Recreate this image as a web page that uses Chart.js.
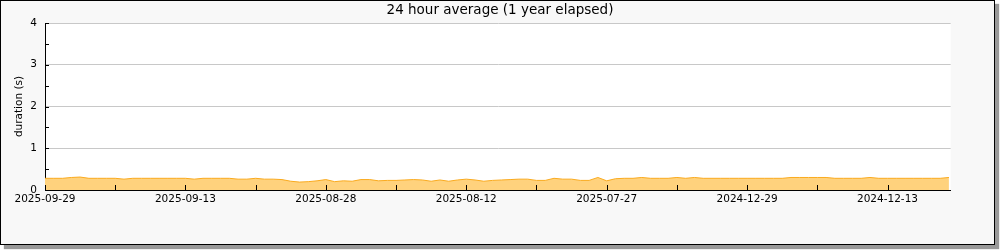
<!DOCTYPE html>
<html>
<head>
<meta charset="utf-8">
<script src="https://cdn.jsdelivr.net/npm/chart.js@4.4.1/dist/chart.umd.min.js"></script>
<style>
  html, body { margin: 0; padding: 0; background: #fff; }
  #frame {
    position: absolute; left: 0; top: 0;
    width: 993px; height: 243px;
    border: 1px solid #000;
    background: #f8f8f8;
    box-shadow: 4px 4px 1px #999;
  }
  #chartCanvas { position: absolute; left: 0; top: 0; }
</style>
</head>
<body>
<div id="frame"></div>
<canvas id="chartCanvas" width="1000" height="250"></canvas>
<script>
// chart data
const titleText = '24 hour average (1 year elapsed)';
const yTitle = 'duration (s)';

// tick labels shown every 16 days along the x axis
const dateLabels = ['2025-09-29', '2025-09-13', '2025-08-28', '2025-08-12', '2025-07-27', '2024-12-29', '2024-12-13'];

// one value per day (seconds)
const durations = [
  0.28, 0.28, 0.28, 0.30, 0.31, 0.28, 0.28, 0.28, 0.28, 0.26,
  0.28, 0.28, 0.28, 0.28, 0.28, 0.28, 0.28, 0.26, 0.28, 0.28,
  0.28, 0.28, 0.26, 0.26, 0.28, 0.26, 0.26, 0.25, 0.21, 0.19,
  0.20, 0.22, 0.25, 0.20, 0.22, 0.21, 0.25, 0.25, 0.22, 0.23,
  0.23, 0.24, 0.25, 0.24, 0.21, 0.24, 0.21, 0.24, 0.26, 0.24,
  0.21, 0.23, 0.24, 0.25, 0.26, 0.26, 0.23, 0.23, 0.28, 0.26,
  0.26, 0.23, 0.23, 0.30, 0.22, 0.27, 0.28, 0.28, 0.30, 0.28,
  0.28, 0.28, 0.30, 0.28, 0.30, 0.28, 0.28, 0.28, 0.28, 0.28,
  0.28, 0.28, 0.28, 0.28, 0.28, 0.30, 0.30, 0.30, 0.30, 0.30,
  0.28, 0.28, 0.28, 0.28, 0.30, 0.28, 0.28, 0.28, 0.28, 0.28,
  0.28, 0.28, 0.28, 0.30
];

const xMax = 103.2;
const xStep = 8;      // minor tick every 8 days, label every 16
const yMax = 4;

const FONT = 'DejaVu Sans';

// white plot background, inward tick marks and the rotated y title
const plotDecor = {
  id: 'plotDecor',
  beforeDraw(chart) {
    const { ctx, chartArea } = chart;
    ctx.save();
    ctx.fillStyle = '#ffffff';
    ctx.fillRect(chartArea.left, chartArea.top, chartArea.right - chartArea.left, chartArea.bottom - chartArea.top);
    ctx.restore();
  },
  afterDatasetsDraw(chart) {
    const { ctx, chartArea, scales } = chart;
    ctx.save();
    ctx.strokeStyle = '#000';
    ctx.lineWidth = 1;
    ctx.beginPath();
    scales.x.ticks.forEach((t) => {
      const px = Math.round(scales.x.getPixelForValue(t.value)) + 0.5;
      ctx.moveTo(px, chartArea.bottom);
      ctx.lineTo(px, chartArea.bottom - 5);
    });
    scales.y.ticks.forEach((t) => {
      const py = Math.round(scales.y.getPixelForValue(t.value)) + 0.5;
      ctx.moveTo(chartArea.left, py);
      ctx.lineTo(chartArea.left + 4, py);
    });
    ctx.stroke();
    // y axis title, centred on the plot height
    ctx.translate(19, (chartArea.top + chartArea.bottom) / 2);
    ctx.rotate(-Math.PI / 2);
    ctx.fillStyle = '#000';
    ctx.font = '10.5px "' + FONT + '"';
    ctx.textAlign = 'center';
    ctx.textBaseline = 'middle';
    ctx.fillText(yTitle, 0, 0);
    ctx.restore();
  }
};

const points = durations.map((v, i) => ({ x: i, y: v }));

const chartCanvas = document.getElementById('chartCanvas');
const chartInstance = new Chart(chartCanvas.getContext('2d'), {
  type: 'line',
  data: {
    datasets: [
      {
        label: 'duration',
        data: points,
        borderColor: 'rgb(250,170,30)',
        backgroundColor: 'rgb(255,210,125)',
        borderWidth: 1,
        pointRadius: 0,
        tension: 0,
        fill: 'origin',
      },
    ],
  },
  options: {
    responsive: false,
    animation: false,
    layout: { padding: 0 },
    plugins: {
      legend: { display: false },
      tooltip: { enabled: false },
      title: {
        display: true,
        text: titleText,
        color: '#000',
        font: { family: FONT, size: 13.5, weight: 'normal', lineHeight: 1.2 },
        padding: { top: 2, bottom: 4.8 },
      },
    },
    scales: {
      x: {
        type: 'linear',
        min: 0,
        max: xMax,
        afterBuildTicks: (scale) => {
          const ticks = [];
          for (let v = 0; v <= xMax; v += xStep) ticks.push({ value: v });
          scale.ticks = ticks;
        },
        afterFit: (scale) => { scale.height = 60; },
        grid: { display: false, drawTicks: false },
        border: { display: true, color: '#000', width: 1 },
        ticks: {
          autoSkip: false,
          maxRotation: 0,
          padding: 3,
          color: '#000',
          font: { family: FONT, size: 10.5 },
          callback: (value) => (value % 16 === 0 ? dateLabels[value / 16] : ''),
        },
      },
      y: {
        min: 0,
        max: yMax,
        afterFit: (scale) => { scale.width = 45; },
        grid: {
          drawTicks: false,
          color: (c) => (c.tick && Number.isInteger(c.tick.value) && c.tick.value > 0 ? '#c8c8c8' : 'rgba(0,0,0,0)'),
        },
        border: { display: true, color: '#000', width: 1 },
        ticks: {
          stepSize: 0.5,
          padding: 8,
          color: '#000',
          font: { family: FONT, size: 10.5 },
          callback: (value) => (Number.isInteger(value) ? String(value) : ''),
        },
      },
      // empty right-hand axis that only reserves the margin right of the plot
      yRight: {
        position: 'right',
        min: 0,
        max: yMax,
        afterFit: (scale) => { scale.width = 49.3; },
        grid: { display: false, drawTicks: false },
        border: { display: false },
        ticks: { display: false },
      },
    },
  },
  plugins: [plotDecor],
});
</script>
</body>
</html>
